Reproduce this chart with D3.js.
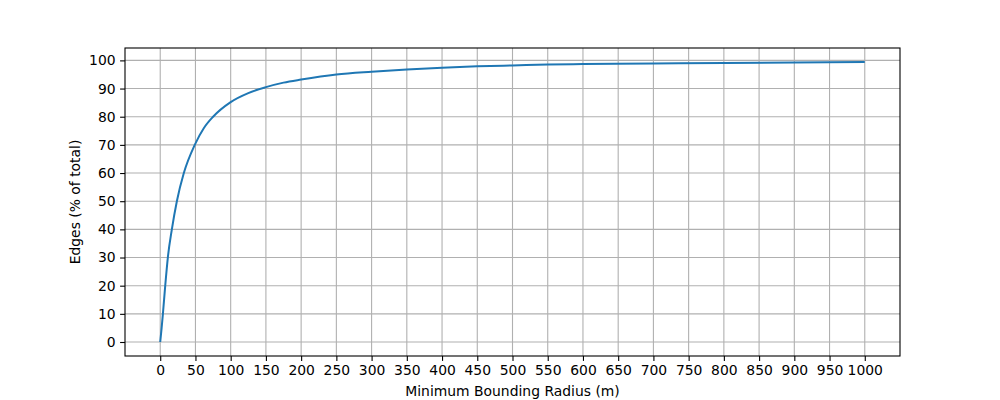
<!DOCTYPE html>
<html>
<head>
<meta charset="utf-8">
<script src="https://cdn.jsdelivr.net/npm/d3@7"></script>
<style>
  body { margin: 0; background: #fff; }
  svg text { font-family: "DejaVu Sans", sans-serif; fill: #000; }
</style>
</head>
<body>
<div id="chart"></div>
<script>
// values
var radius  = [0, 2, 3.8, 7.1, 10.8, 16.5, 23.6, 33.5, 49, 62, 75, 100, 125, 150, 175, 200, 250, 300, 350, 400, 450, 500, 550, 600, 700, 800, 900, 1000];
var percent = [0, 5, 10, 20, 30, 40, 50, 60, 70, 76, 80, 85.2, 88.4, 90.5, 92.1, 93.2, 95.0, 96.0, 96.8, 97.4, 97.9, 98.2, 98.5, 98.7, 98.9, 99.1, 99.25, 99.4];
var xTicks = d3.range(0, 1001, 50);
var yTicks = d3.range(0, 101, 10);

var margin = { top: 48, right: 100, bottom: 44, left: 125 },
    width = 1000 - margin.left - margin.right,
    height = 400 - margin.top - margin.bottom;

var x = d3.scaleLinear().domain([-50, 1050]).range([0, width]);
var y = d3.scaleLinear().domain([-4.97, 104.4]).range([height, 0]);

var svg = d3.select("#chart").append("svg")
    .attr("width", 1000)
    .attr("height", 400)
    .append("g")
    .attr("transform", "translate(" + margin.left + "," + margin.top + ")");

// grid
svg.append("g").selectAll("line").data(xTicks).enter().append("line")
    .attr("x1", function (d) { return x(d); }).attr("x2", function (d) { return x(d); })
    .attr("y1", 0).attr("y2", height)
    .attr("stroke", "#b0b0b0").attr("stroke-width", 1.1);
svg.append("g").selectAll("line").data(yTicks).enter().append("line")
    .attr("y1", function (d) { return y(d); }).attr("y2", function (d) { return y(d); })
    .attr("x1", 0).attr("x2", width)
    .attr("stroke", "#b0b0b0").attr("stroke-width", 1.1);

// the curve
var pts = radius.map(function (r, i) { return [r, percent[i]]; });
svg.append("path")
    .datum(pts)
    .attr("fill", "none")
    .attr("stroke", "#1f77b4")
    .attr("stroke-width", 2)
    .attr("stroke-linejoin", "round")
    .attr("d", d3.line()
        .x(function (d) { return x(d[0]); })
        .y(function (d) { return y(d[1]); })
        .curve(d3.curveMonotoneX));

// axes
var xAxis = svg.append("g")
    .attr("transform", "translate(0," + height + ")")
    .call(d3.axisBottom(x).tickValues(xTicks).tickSize(4.9).tickPadding(4.5).tickFormat(d3.format("d")));
var yAxis = svg.append("g")
    .call(d3.axisLeft(y).tickValues(yTicks).tickSize(4.9).tickPadding(4.5).tickFormat(d3.format("d")));
[xAxis, yAxis].forEach(function (a) {
    a.select(".domain").remove();
    a.selectAll(".tick line").attr("stroke", "#000").attr("stroke-width", 1.1);
    a.selectAll(".tick text").attr("font-size", "13.9px").attr("font-family", "DejaVu Sans");
});

// frame
svg.append("rect")
    .attr("width", width).attr("height", height)
    .attr("fill", "none").attr("stroke", "#000").attr("stroke-width", 1.1);

// axis labels
svg.append("text")
    .attr("x", width / 2).attr("y", height + 40)
    .attr("text-anchor", "middle")
    .attr("font-size", "13.9px")
    .text("Minimum Bounding Radius (m)");
svg.append("text")
    .attr("transform", "translate(-45," + (height / 2) + ") rotate(-90)")
    .attr("text-anchor", "middle")
    .attr("font-size", "13.9px")
    .text("Edges (% of total)");
</script>
</body>
</html>
